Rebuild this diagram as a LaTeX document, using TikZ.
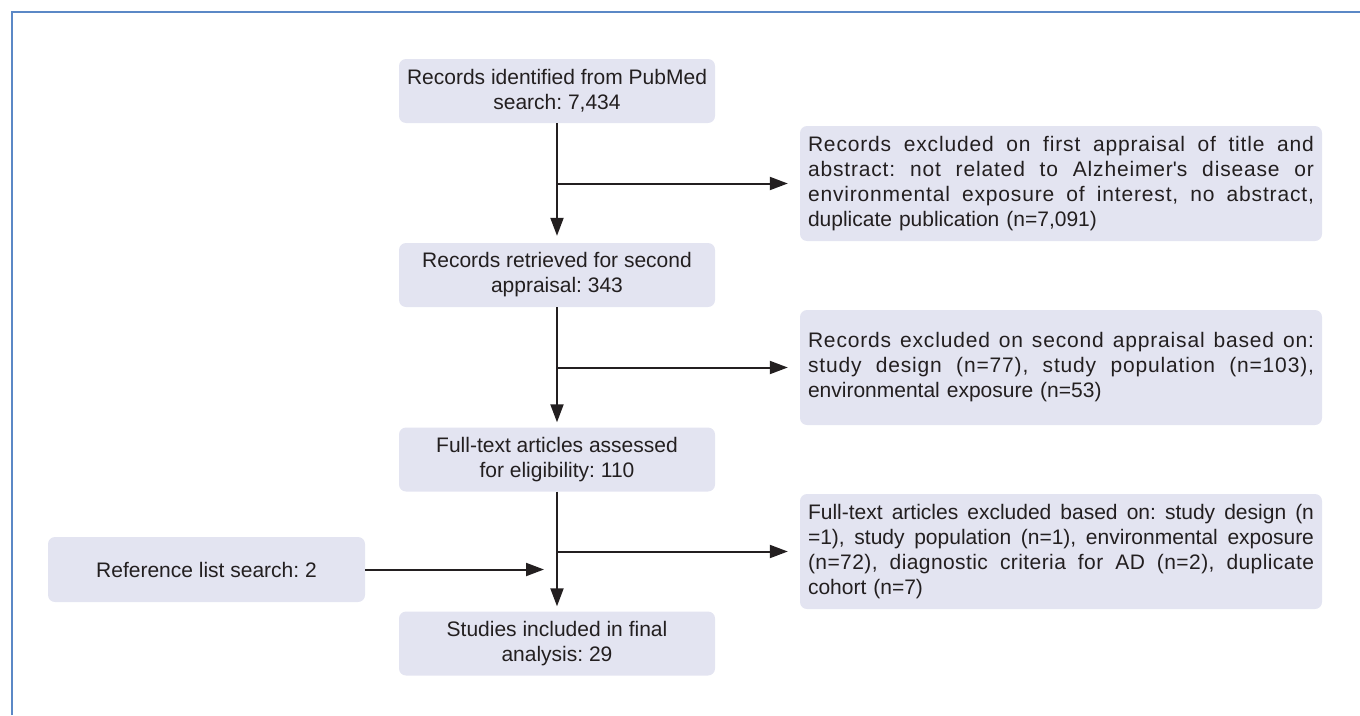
\documentclass[tikz,border=0pt]{standalone}
\usepackage{fontspec}
\setmainfont{Liberation Sans}
\usetikzlibrary{arrows.meta}
\definecolor{boxfill}{HTML}{E3E4F1}
\definecolor{framecol}{HTML}{5B88C6}
\definecolor{inkcol}{HTML}{231F20}
\tikzset{flowbox/.style={fill=boxfill, rounded corners=7pt, inner sep=0pt, align=center,
   text=inkcol, minimum width=316pt, minimum height=64pt, font=\fontsize{21}{25}\selectfont\frenchspacing},
 exclbox/.style={flowbox, minimum width=522pt, minimum height=115pt, align=left, text width=506pt},
 flowarrow/.style={draw=inkcol, line width=2pt, -{Triangle[length=18pt,width=13pt]}},
 }
\newcommand{\fullline}[2][0]{{\addfontfeature{LetterSpace=#1}\spaceskip=0pt\xspaceskip=0pt\makebox[506pt][s]{#2}}}

\begin{document}
\begin{tikzpicture}[x=1pt, y=-1pt]
        \useasboundingbox (0,0) rectangle (1360,715);
        \draw[framecol, line width=2.5pt] (12,715) -- (12,12) -- (1360,12);

        % main column
        \node[flowbox] (recA) at (557,91) {Records identified from PubMed\\search: 7,434};
        \node[flowbox] (recB) at (557,275) {Records retrieved for second\\appraisal: 343};
        \node[flowbox] (recC) at (557,459.5) {Full-text articles assessed\\for eligibility: 110};
        \node[flowbox] (recD) at (557,643.5) {Studies included in final\\analysis: 29};
        \node[flowbox, minimum width=317pt, minimum height=65pt] (ref) at (206.5,569.5) {Reference list search: 2};

        % exclusions
        \node[exclbox] (exc1) at (1061,183.5) {\fullline[4]{Records excluded on first appraisal of title and}\\
            \fullline[4]{abstract: not related to Alzheimer\textquotesingle s disease or}\\
            \fullline[4]{environmental exposure of interest, no abstract,}\\
            duplicate publication (n=7,091)};
        \node[exclbox] (exc2) at (1061,367.5) {\fullline[4]{Records excluded on second appraisal based on:}\\
            \fullline[4]{study design (n=77), study population (n=103),}\\
            environmental exposure (n=53)};
        \node[exclbox] (exc3) at (1061,551.5) {\fullline{Full-text articles excluded based on: study design (n}\\
            \fullline{=1), study population (n=1), environmental exposure}\\
            \fullline[2]{(n=72), diagnostic criteria for AD (n=2), duplicate}\\
            cohort (n=7)};

        \draw[flowarrow, shorten >=7pt] (recA) -- (recB);
        \draw[flowarrow, shorten >=5pt] (recB) -- (recC);
        \draw[flowarrow, shorten >=5pt] (recC) -- (recD);
        \foreach \src/\dst in {recA/exc1, recB/exc2, recC/exc3} {
            \draw[flowarrow, shorten >=12pt] (\src.south |- \dst.west) -- (\dst.west);
        }
        \draw[flowarrow, shorten >=13pt] (ref.east) -- (ref.east -| recC.south);
\end{tikzpicture}
\end{document}
